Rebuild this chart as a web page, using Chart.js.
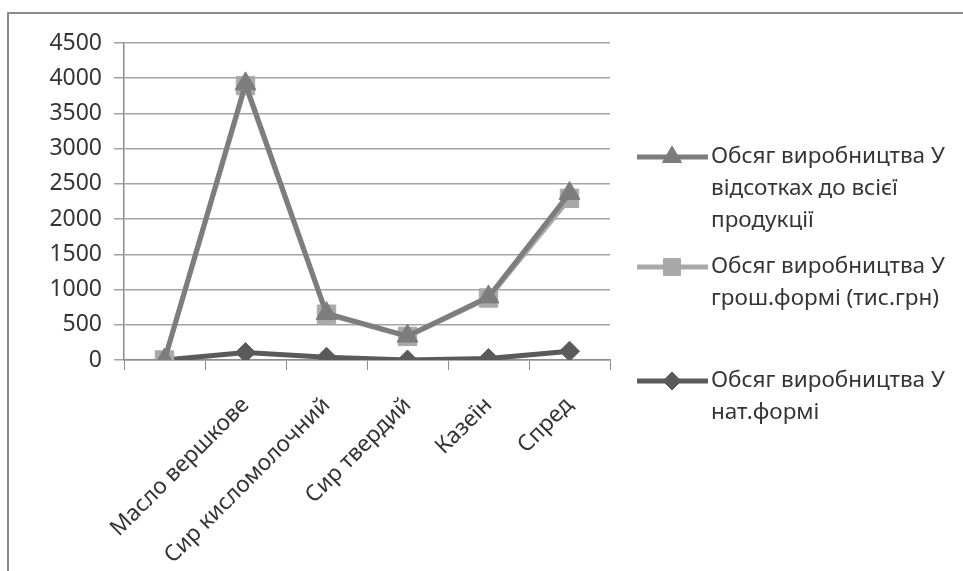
<!DOCTYPE html>
<html>
<head>
<meta charset="utf-8">
<script src="https://cdn.jsdelivr.net/npm/chart.js@4/dist/chart.umd.min.js"></script>
<style>
  html, body { margin: 0; padding: 0; background: #ffffff; }
  #wrap { position: relative; width: 963px; height: 571px; }
</style>
</head>
<body>
<div id="wrap"><canvas id="chart" width="963" height="571"></canvas></div>
<script>
// Categories (the first row has no caption)
const categories = ['', 'Масло вершкове', 'Сир кисломолочний', 'Сир твердий', 'Казеїн', 'Спред'];

// Series values (stacked line: each series sits on top of the previous one)
const natValues   = [0, 105, 40, 0, 20, 125];      // Обсяг виробництва У нат.формі
const groshValues = [0, 3790, 610, 335, 860, 2170]; // Обсяг виробництва У грош.формі (тис.грн)
const pctValues   = [0, 25, 10, 5, 15, 70];         // Обсяг виробництва У відсотках до всієї продукції

// Value axis
const yTickValues = [0, 500, 1000, 1500, 2000, 2500, 3000, 3500, 4000, 4500];

// Series names, and the same names broken into legend lines
const seriesNat = 'Обсяг виробництва У нат.формі';
const seriesGrosh = 'Обсяг виробництва У грош.формі (тис.грн)';
const seriesPct = 'Обсяг виробництва У відсотках до всієї продукції';
const legendNat = ['Обсяг виробництва У', 'нат.формі'];
const legendGrosh = ['Обсяг виробництва У', 'грош.формі (тис.грн)'];
const legendPct = ['Обсяг виробництва У', 'відсотках до всієї', 'продукції'];

// Running totals for the stacked lines
const stackGrosh = groshValues.map((v, i) => v + natValues[i]);
const stackPct = pctValues.map((v, i) => v + stackGrosh[i]);

const FONT = '"Noto Sans", "Open Sans", sans-serif';
const TEXT = '#353535';
const C_PCT = '#7d7d7d';
const C_GROSH = '#a9a9a9';
const C_NAT = '#5a5a5a';

const framePlugin = {
  id: 'frame',
  beforeDraw(chart) {
    const ctx = chart.ctx;
    ctx.save();
    ctx.fillStyle = '#ffffff';
    ctx.fillRect(0, 0, chart.width, chart.height);
    ctx.strokeStyle = '#8c8c8c';
    ctx.lineWidth = 2;
    ctx.strokeRect(8, 13, chart.width + 20, chart.height + 20);
    ctx.restore();
  }
};

const legendPlugin = {
  id: 'sideLegend',
  afterDraw(chart) {
    const ctx = chart.ctx;
    const entries = [
      { lines: legendPct, style: 'triangle', radius: 11, line: C_PCT, fill: C_PCT, y: 157 },
      { lines: legendGrosh, style: 'rect', radius: 12, line: C_GROSH, fill: C_GROSH, y: 267 },
      { lines: legendNat, style: 'rectRot', radius: 9, line: C_NAT, fill: C_NAT, y: 381 }
    ];
    ctx.save();
    entries.forEach(e => {
      ctx.strokeStyle = e.line;
      ctx.lineWidth = 5;
      ctx.beginPath();
      ctx.moveTo(637, e.y);
      ctx.lineTo(708, e.y);
      ctx.stroke();
      ctx.fillStyle = e.fill;
      ctx.strokeStyle = e.fill;
      ctx.lineWidth = 1;
      Chart.helpers.drawPoint(ctx, { pointStyle: e.style, radius: e.radius, rotation: 0, borderWidth: 1 }, 672, e.y);
      ctx.fillStyle = TEXT;
      ctx.font = '22.5px ' + FONT;
      ctx.textBaseline = 'middle';
      ctx.textAlign = 'left';
      e.lines.forEach((t, i) => ctx.fillText(t, 711, e.y + i * 32));
    });
    ctx.restore();
  }
};

new Chart(document.getElementById('chart'), {
  type: 'line',
  data: {
    labels: categories,
    datasets: [
      {
        label: seriesPct, data: stackPct, order: 1,
        borderColor: C_PCT, backgroundColor: C_PCT, borderWidth: 5,
        pointStyle: 'triangle', pointRadius: 12, pointBorderWidth: 1,
        pointBackgroundColor: C_PCT, pointBorderColor: C_PCT, tension: 0
      },
      {
        label: seriesGrosh, data: stackGrosh, order: 2,
        borderColor: C_GROSH, backgroundColor: C_GROSH, borderWidth: 5,
        pointStyle: 'rect', pointRadius: 13, pointBorderWidth: 1,
        pointBackgroundColor: C_GROSH, pointBorderColor: C_GROSH, tension: 0
      },
      {
        label: seriesNat, data: natValues, order: 3,
        borderColor: C_NAT, backgroundColor: C_NAT, borderWidth: 5,
        pointStyle: 'rectRot', pointRadius: 10, pointBorderWidth: 1,
        pointBackgroundColor: C_NAT, pointBorderColor: C_NAT, tension: 0
      }
    ]
  },
  options: {
    responsive: false,
    animation: false,
    layout: { padding: { left: 0, top: 43, right: 353, bottom: 0 } },
    plugins: { legend: { display: false }, tooltip: { enabled: false } },
    scales: {
      x: {
        offset: true,
        afterFit(s) { s.height = 211; },
        grid: { offset: true, drawOnChartArea: false, drawTicks: true, tickLength: 10, color: '#8c8c8c', lineWidth: 1 },
        border: { color: '#8c8c8c', width: 1.5 },
        ticks: { minRotation: 45, maxRotation: 45, autoSkip: false, padding: 22, color: TEXT, font: { family: FONT, size: 22.5 } }
      },
      y: {
        min: 0, max: 4500,
        afterFit(s) { s.width = 124; },
        afterBuildTicks(s) { s.ticks = yTickValues.map(v => ({ value: v })); },
        grid: { color: '#a3a3a3', lineWidth: 1.5, tickLength: 10 },
        border: { color: '#8c8c8c', width: 1.5 },
        ticks: { padding: 12, color: TEXT, font: { family: FONT, size: 23 }, callback: v => String(v) }
      }
    }
  },
  plugins: [framePlugin, legendPlugin]
});
</script>
</body>
</html>
